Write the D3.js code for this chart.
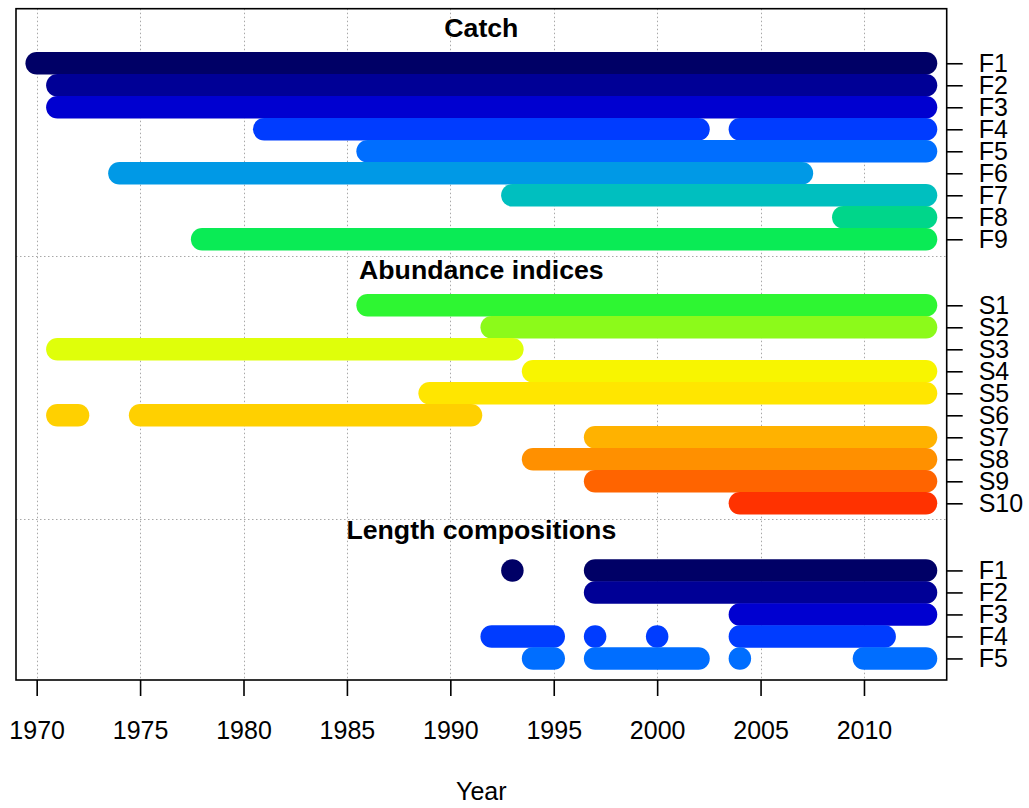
<!DOCTYPE html>
<html>
<head>
<meta charset="utf-8">
<script src="https://d3js.org/d3.v7.min.js"></script>
<style>
  html, body { margin: 0; padding: 0; background: #ffffff; }
  svg { display: block; }
  text { font-family: "Liberation Sans", Arial, sans-serif; fill: #000; }
</style>
</head>
<body>
<script>
// ---------------- data ----------------
const groupTitles = ["Catch", "Abundance indices", "Length compositions"];

const catchLabels = ["F1", "F2", "F3", "F4", "F5", "F6", "F7", "F8", "F9"];
const catchSegments = [
  [[1970, 2013]],
  [[1971, 2013]],
  [[1971, 2013]],
  [[1981, 2002], [2004, 2013]],
  [[1986, 2013]],
  [[1974, 2007]],
  [[1993, 2013]],
  [[2009, 2013]],
  [[1978, 2013]]
];

const indexLabels = ["S1", "S2", "S3", "S4", "S5", "S6", "S7", "S8", "S9", "S10"];
const indexSegments = [
  [[1986, 2013]],
  [[1992, 2013]],
  [[1971, 1993]],
  [[1994, 2013]],
  [[1989, 2013]],
  [[1971, 1972], [1975, 1991]],
  [[1997, 2013]],
  [[1994, 2013]],
  [[1997, 2013]],
  [[2004, 2013]]
];

const lengthLabels = ["F1", "F2", "F3", "F4", "F5"];
const lengthSegments = [
  [[1993, 1993], [1997, 2013]],
  [[1997, 2013]],
  [[2004, 2013]],
  [[1992, 1995], [1997, 1997], [2000, 2000], [2004, 2011]],
  [[1994, 1995], [1997, 2002], [2004, 2004], [2010, 2013]]
];

const fleetColors = [
  "#000066", "#000096", "#0000D0", "#003CFF", "#006EFF", "#0099E6",
  "#00BFBF", "#00D68A", "#0AEB55",
  "#2EF632", "#8CFA1A", "#DFFF0A", "#F8F500", "#FFE600", "#FFD000",
  "#FFB200", "#FF9000", "#FF6400", "#FF3200"
];

const xTicks = [1970, 1975, 1980, 1985, 1990, 1995, 2000, 2005, 2010];
const xLabel = "Year";

// ---------------- layout ----------------
const W = 1029, H = 808;
const plot = { left: 16, right: 946.7, top: 8.7, bottom: 680 };

const x = d3.scaleLinear().domain([1969, 2014]).range([plot.left, plot.right]);
const y = d3.scaleLinear().domain([-2.48, 28.03]).range([plot.top, plot.bottom]);

const groups = [
  { title: groupTitles[0], labels: catchLabels, segs: catchSegments, colorOffset: 0, start: 0, titleRow: -1.18 },
  { title: groupTitles[1], labels: indexLabels, segs: indexSegments, colorOffset: 9, start: 11, titleRow: 9.8 },
  { title: groupTitles[2], labels: lengthLabels, segs: lengthSegments, colorOffset: 0, start: 23.05, titleRow: 21.64 }
];
const rows = [];
groups.forEach(g => {
  g.labels.forEach((lab, i) => {
    rows.push({ label: lab, segs: g.segs[i], color: fleetColors[g.colorOffset + i], row: g.start + i });
  });
});
const dividers = [8.75, 20.73];

const svg = d3.select("body").append("svg").attr("width", W).attr("height", H);
svg.append("rect").attr("width", W).attr("height", H).attr("fill", "#fff");

// grid
const grid = svg.append("g");
grid.selectAll("line.v").data(xTicks).join("line")
  .attr("x1", d => Math.round(x(d)) + 0.5).attr("x2", d => Math.round(x(d)) + 0.5)
  .attr("y1", plot.top).attr("y2", plot.bottom)
  .attr("stroke", "#a8a8a8").attr("stroke-width", 1).attr("stroke-dasharray", "1.5,2.5");
grid.selectAll("line.h").data(dividers).join("line")
  .attr("x1", plot.left).attr("x2", plot.right)
  .attr("y1", d => Math.round(y(d)) + 0.5).attr("y2", d => Math.round(y(d)) + 0.5)
  .attr("stroke", "#a8a8a8").attr("stroke-width", 1).attr("stroke-dasharray", "1.5,2.5");

// bars
const barW = 22.5;
const marks = svg.append("g");
rows.forEach(r => {
  r.segs.forEach(s => {
    if (s[0] === s[1]) {
      marks.append("circle").attr("cx", x(s[0])).attr("cy", y(r.row)).attr("r", barW / 2).attr("fill", r.color);
    } else {
      marks.append("line")
        .attr("x1", x(s[0])).attr("x2", x(s[1]))
        .attr("y1", y(r.row)).attr("y2", y(r.row))
        .attr("stroke", r.color).attr("stroke-width", barW).attr("stroke-linecap", "round");
    }
  });
});

// titles
svg.append("g").selectAll("text").data(groups).join("text")
  .attr("x", (plot.left + plot.right) / 2)
  .attr("y", d => y(d.titleRow))
  .attr("text-anchor", "middle")
  .attr("font-weight", "bold")
  .attr("font-size", "26.7px")
  .text(d => d.title);

// box
svg.append("rect")
  .attr("x", plot.left).attr("y", plot.top)
  .attr("width", plot.right - plot.left).attr("height", plot.bottom - plot.top)
  .attr("fill", "none").attr("stroke", "#000").attr("stroke-width", 1.6);

// bottom axis
const xAxis = d3.axisBottom(x).tickValues(xTicks).tickFormat(d3.format("d")).tickSize(16).tickPadding(25);
const gx = svg.append("g").attr("transform", `translate(0,${plot.bottom})`).call(xAxis);
gx.select(".domain").remove();
gx.selectAll(".tick line").attr("stroke", "#000").attr("stroke-width", 1.6);
gx.selectAll(".tick text").attr("font-size", "25px").attr("font-family", "Liberation Sans, Arial, sans-serif").attr("fill", "#000");

// right axis
const yAxis = d3.axisRight(y).tickValues(rows.map(r => r.row)).tickFormat((d, i) => rows[i].label).tickSize(16).tickPadding(16);
const gy = svg.append("g").attr("transform", `translate(${plot.right},0)`).call(yAxis);
gy.select(".domain").remove();
gy.selectAll(".tick line").attr("stroke", "#000").attr("stroke-width", 1.6);
gy.selectAll(".tick text").attr("font-size", "25px").attr("font-family", "Liberation Sans, Arial, sans-serif").attr("fill", "#000");

// x label
svg.append("text")
  .attr("x", (plot.left + plot.right) / 2).attr("y", 799.5)
  .attr("text-anchor", "middle").attr("font-size", "25px")
  .text(xLabel);
</script>
</body>
</html>
